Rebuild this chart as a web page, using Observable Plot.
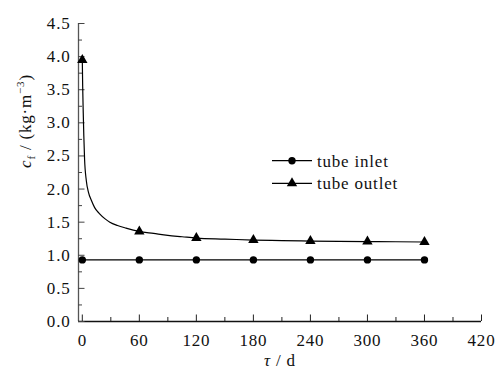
<!DOCTYPE html>
<html>
<head>
<meta charset="utf-8">
<script src="https://cdn.jsdelivr.net/npm/d3@7"></script>
<script src="https://cdn.jsdelivr.net/npm/@observablehq/plot@0.6"></script>
<style>
  html, body { margin: 0; padding: 0; background: #fff; }
  svg { display: block; }
</style>
</head>
<body>
<div id="chart"></div>
<script>
// Marker positions (days) and values
const markerDays = [0, 60, 120, 180, 240, 300, 360];
const inletValues = [0.93, 0.93, 0.93, 0.93, 0.93, 0.93, 0.93];
const outletValues = [3.95, 1.36, 1.26, 1.23, 1.215, 1.207, 1.20];
// Outlet fitted curve
const curveDays = [0, 0.4, 1.0, 1.6, 2.4, 4.2, 6.5, 9.5, 13, 18, 24, 29, 37, 46, 60, 75, 90, 105, 120, 150, 180, 210, 240, 270, 300, 330, 360];
const curveValues = [3.95, 3.55, 3.15, 2.8, 2.45, 2.13, 1.95, 1.83, 1.72, 1.63, 1.55, 1.50, 1.45, 1.41, 1.36, 1.33, 1.30, 1.28, 1.26, 1.245, 1.23, 1.222, 1.215, 1.21, 1.207, 1.204, 1.20];
// Axis ticks
const xTicks = [0, 60, 120, 180, 240, 300, 360, 420];
const xMinor = [30, 90, 150, 210, 270, 330, 390];
const yTicks = [0, 0.5, 1, 1.5, 2, 2.5, 3, 3.5, 4, 4.5];
const yMinor = [0.25, 0.75, 1.25, 1.75, 2.25, 2.75, 3.25, 3.75, 4.25];
const seriesNames = ["tube inlet", "tube outlet"];

const inlet = markerDays.map((d, i) => ({day: d, v: inletValues[i]}));
const outletPts = markerDays.map((d, i) => ({day: d, v: outletValues[i]}));
const curve = curveDays.map((d, i) => ({day: d, v: curveValues[i]}));

const FONT = "Liberation Serif";
const FS = 17;
const circR = 3.7, triR = 3.86;

const chart = Plot.plot({
  width: 497,
  height: 369,
  marginLeft: 78,
  marginRight: 16,
  marginTop: 23,
  marginBottom: 48,
  style: {fontFamily: FONT, fontSize: FS + "px", background: "#fff", color: "#000"},
  x: {domain: [-4, 420], label: null},
  y: {domain: [0, 4.5], label: null},
  marks: [
    // axis lines
    Plot.ruleX([-4], {stroke: "#555", strokeWidth: 1.3}),
    Plot.ruleY([0], {stroke: "#111", strokeWidth: 1.3}),
    // tick marks (inward)
    Plot.axisX(xTicks, {tickSize: -6.5, text: null, stroke: "#222"}),
    Plot.axisX(xMinor, {tickSize: -4, text: null, stroke: "#222"}),
    Plot.axisY(yTicks, {tickSize: -6.5, text: null, stroke: "#444"}),
    Plot.axisY(yMinor, {tickSize: -4, text: null, stroke: "#444"}),
    // tick labels
    Plot.axisX(xTicks, {tickSize: 0, tickPadding: 12, label: null, fontSize: FS, fontFamily: FONT, fill: "#111"}),
    Plot.axisY(yTicks, {tickSize: 0, tickPadding: 8, label: null, fontSize: FS, fontFamily: FONT, fill: "#111",
      tickFormat: d => d.toFixed(1)}),
    // data
    Plot.line(inlet, {x: "day", y: "v", stroke: "#000", strokeWidth: 1.2}),
    Plot.line(curve, {x: "day", y: "v", stroke: "#000", strokeWidth: 1.2, curve: "monotone-x"}),
    Plot.dot(inlet, {x: "day", y: "v", r: circR, fill: "#000", stroke: "none", symbol: "circle"}),
    Plot.dot(outletPts, {x: "day", y: "v", r: triR, fill: "#000", stroke: "none", symbol: "triangle"})
  ]
});

const svg = d3.select(chart);

// Y title
const yt = svg.append("text")
  .attr("transform", "translate(31,121) rotate(-90)")
  .attr("text-anchor", "middle")
  .attr("font-family", FONT)
  .attr("font-size", FS)
  .attr("fill", "#111");
yt.append("tspan").attr("font-style", "italic").text("c");
yt.append("tspan").attr("font-size", 11).attr("dy", "4").text("f");
yt.append("tspan").attr("dy", "-4").text(" / (kg·m");
yt.append("tspan").attr("font-size", 11).attr("dy", "-7").text("−3");
yt.append("tspan").attr("dy", "7").text(")");

// X title
const xt = svg.append("text")
  .attr("x", 280).attr("y", 366)
  .attr("text-anchor", "middle")
  .attr("font-family", FONT)
  .attr("font-size", FS)
  .attr("fill", "#111");
xt.append("tspan").attr("font-style", "italic").text("τ");
xt.append("tspan").text(" / d");

// Legend
const lg = svg.append("g");
const rows = [
  {name: seriesNames[0], y: 160.7, sym: d3.symbolCircle, size: Math.PI * circR * circR},
  {name: seriesNames[1], y: 183.3, sym: d3.symbolTriangle, size: Math.PI * triR * triR}
];
rows.forEach(r => {
  lg.append("line").attr("x1", 272).attr("x2", 312).attr("y1", r.y).attr("y2", r.y)
    .attr("stroke", "#000").attr("stroke-width", 1.2);
  lg.append("path").attr("d", d3.symbol(r.sym, r.size)()).attr("transform", `translate(292,${r.y})`)
    .attr("fill", "#000");
  lg.append("text").attr("x", 317).attr("y", r.y + 6)
    .attr("text-anchor", "start")
    .attr("font-family", FONT).attr("font-size", FS).attr("fill", "#111").text(r.name);
});

// slightly wider letter spacing to match the reference's text widths
svg.selectAll("text").attr("letter-spacing", "0.8");

document.getElementById("chart").appendChild(chart);
</script>
</body>
</html>
